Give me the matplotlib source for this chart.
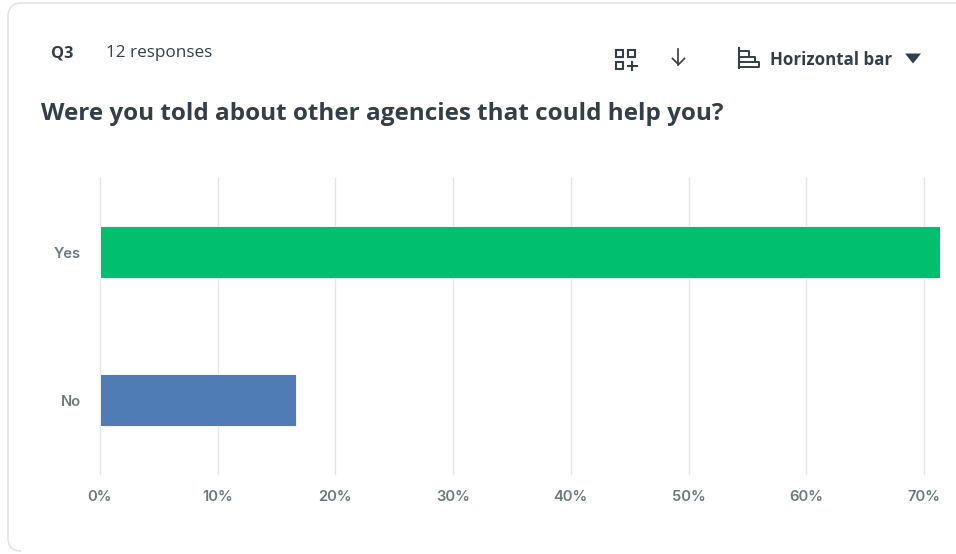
import matplotlib
matplotlib.use("Agg")
import matplotlib.pyplot as plt
from matplotlib.patches import Rectangle, Polygon, PathPatch
from matplotlib.path import Path

# Survey results for Q3 (percent of 12 responses)
categories = ["No", "Yes"]
percentages = [16.67, 83.33]
bar_colors = ["#507cb6", "#00bf6f"]
x_ticks = [0, 10, 20, 30, 40, 50, 60, 70]
x_tick_labels = ["0%", "10%", "20%", "30%", "40%", "50%", "60%", "70%"]
question_id = "Q3"
response_text = "12 responses"
question_text = "Were you told about other agencies that could help you?"
chart_type_text = "Horizontal bar"

W, H = 956, 554
DARK = "#333e48"
MUTED = "#6b787f"
GRID = "#e6e6e6"
FONT = "Open Sans"
TICK_FONT = "Inter"

fig = plt.figure(figsize=(W / 100, H / 100), dpi=100, facecolor="white")

# Page layer in pixel coordinates: card outline, header text, toolbar icons
page = fig.add_axes([0, 0, 1, 1], zorder=1)
page.set_xlim(0, W)
page.set_ylim(H, 0)
page.axis("off")

card = Path(
    [(960, 3), (22, 3), (8, 3), (8, 17), (8, 538), (8, 551), (21, 551)],
    [Path.MOVETO, Path.LINETO, Path.CURVE3, Path.CURVE3,
     Path.LINETO, Path.CURVE3, Path.CURVE3],
)
page.add_patch(PathPatch(card, fill=False, edgecolor="#e2e2e2", lw=1.1))

page.text(51.5, 54, question_id, fontsize=11.7, fontweight="bold", color=DARK,
          family=FONT, va="center", ha="left")
page.text(106.5, 53, response_text, fontsize=12.3, color=DARK,
          family=FONT, va="center", ha="left")
page.text(41, 114, question_text, fontsize=17.5, fontweight="bold", color=DARK,
          family=FONT, va="center", ha="left")
page.text(770, 60, chart_type_text, fontsize=12.2, fontweight="bold", color=DARK,
          family=FONT, va="center", ha="left")

# Layout icon: three squares and a plus
for sx, sy in [(616, 50), (628, 50), (616, 62)]:
    page.add_patch(Rectangle((sx, sy), 7, 7, fill=False, edgecolor=DARK, lw=1.5))
page.plot([628, 637], [65.5, 65.5], color=DARK, lw=1.5)
page.plot([632.5, 632.5], [61.5, 70], color=DARK, lw=1.5)

# Download arrow
page.plot([678.5, 678.5], [49, 64.5], color=DARK, lw=1.2)
page.plot([672.5, 678.5, 684.5], [58.5, 64.5, 58.5], color=DARK, lw=1.2)

# Chart type icon: stepped bars on an axis line
page.plot([739, 739], [48, 68], color=DARK, lw=1.5)
page.plot([739, 749, 749], [51, 51, 57], color=DARK, lw=1.4)
page.plot([739, 755, 755], [57, 57, 62], color=DARK, lw=1.4)
page.plot([739, 759, 759, 739], [62, 62, 66.5, 66.5], color=DARK, lw=1.4)

# Dropdown caret
page.add_patch(Polygon([(905, 53.5), (921, 53.5), (913, 63.5)], closed=True,
                       facecolor=DARK, edgecolor="none"))

# Bar chart, with the axis range cut off inside the card
left, right, top, bottom = 100, 940, 178, 474
ax = fig.add_axes([left / W, 1 - bottom / H, (right - left) / W, (bottom - top) / H],
                  zorder=2)
ax.patch.set_alpha(0)
ax.barh(categories, percentages, height=0.35, color=bar_colors,
        edgecolor="white", linewidth=0.6, zorder=3)
ax.set_xlim(0, 71.36)
ax.set_ylim(-0.5, 1.5)
ax.set_xticks(x_ticks, x_tick_labels)
ax.xaxis.grid(True, color=GRID, lw=1.0, zorder=0)
ax.yaxis.grid(False)
for spine in ax.spines.values():
    spine.set_visible(False)
ax.tick_params(axis="both", length=0)
ax.tick_params(axis="x", pad=11.5)
ax.tick_params(axis="y", pad=13.5)
for lab in ax.get_xticklabels() + ax.get_yticklabels():
    lab.set_family(TICK_FONT)
    lab.set_fontsize(10.6)
    lab.set_fontweight("semibold")
    lab.set_color(MUTED)
for grid_line in ax.get_xgridlines():
    grid_line.set_clip_on(False)

fig.savefig("out.png", dpi=100, facecolor="white")
